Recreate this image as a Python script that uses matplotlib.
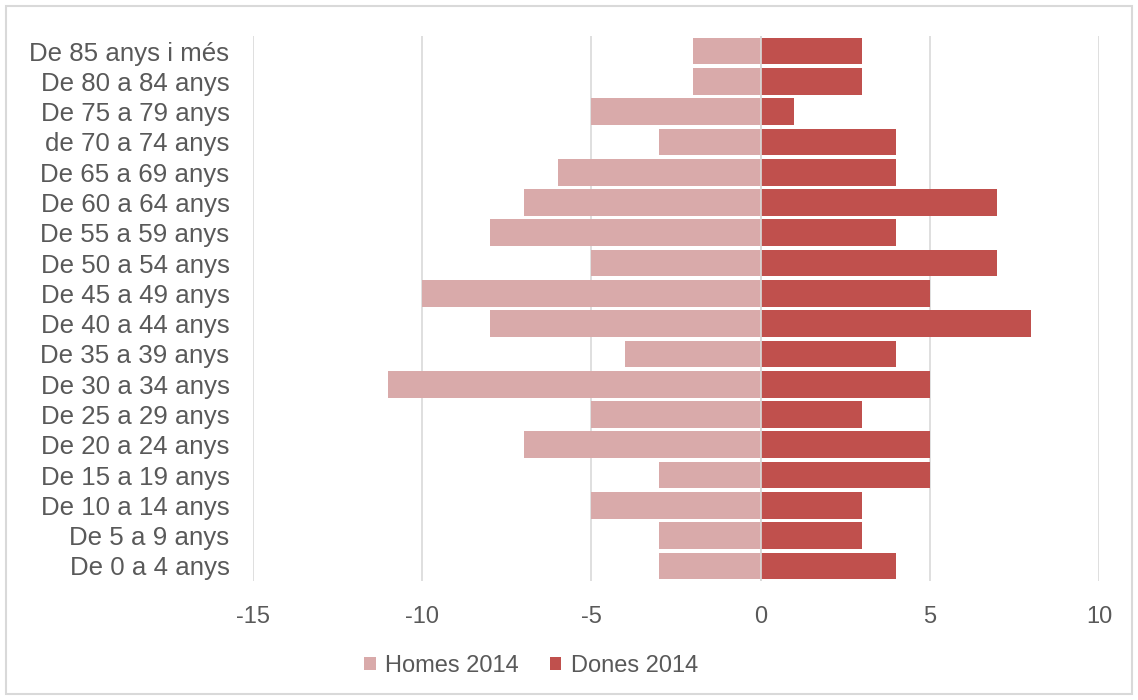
import matplotlib
matplotlib.use("Agg")
import matplotlib.pyplot as plt
from matplotlib.patches import Rectangle

plt.rcParams['font.family'] = ['Liberation Sans', 'DejaVu Sans']

categories = ["De 0 a 4 anys", "De 5 a 9 anys", "De 10 a 14 anys", "De 15 a 19 anys",
              "De 20 a 24 anys", "De 25 a 29 anys", "De 30 a 34 anys", "De 35 a 39 anys",
              "De 40 a 44 anys", "De 45 a 49 anys", "De 50 a 54 anys", "De 55 a 59 anys",
              "De 60 a 64 anys", "De 65 a 69 anys", "de 70 a 74 anys", "De 75 a 79 anys",
              "De 80 a 84 anys", "De 85 anys i més"]
homes = [-3, -3, -5, -3, -7, -5, -11, -4, -8, -10, -5, -8, -7, -6, -3, -5, -2, -2]
dones = [4, 3, 3, 5, 5, 3, 5, 4, 8, 5, 7, 4, 7, 4, 4, 1, 3, 3]
xticks = [-15, -10, -5, 0, 5, 10]

c_homes = "#D9AAAA"
c_dones = "#C0504D"
txt = "#595959"
grid = "#D9D9D9"

fig = plt.figure(figsize=(11.38, 7.0), dpi=100)
ax = fig.add_axes([253/1138, 1-581/700, (1099-253)/1138, (581-36)/700])

y = list(range(len(categories)))
ax.barh(y, homes, height=0.88, color=c_homes, label="Homes 2014", zorder=2)
ax.barh(y, dones, height=0.88, color=c_dones, label="Dones 2014", zorder=2)
ax.axvline(0, color=grid, lw=1.2, zorder=3)

ax.set_xlim(-15, 10)
ax.set_ylim(-0.5, len(categories)-0.5)
ax.set_xticks(xticks)
ax.set_xticklabels([str(v) for v in xticks])
ax.set_yticks(y)
ax.set_yticklabels(categories)
ax.grid(axis='x', color=grid, lw=1.2, zorder=0)
ax.set_axisbelow(True)
for s in ax.spines.values():
    s.set_visible(False)
ax.tick_params(axis='both', length=0, colors=txt)
ax.tick_params(axis='x', pad=18, labelsize=17)
ax.tick_params(axis='y', pad=17, labelsize=18.6)

fig.legend(loc='center', bbox_to_anchor=(531/1138, 1-666/700), ncol=2, frameon=False,
           fontsize=17, labelcolor=txt, handlelength=0.5, handleheight=0.5,
           handletextpad=0.4, columnspacing=1.3)

fig.patches.append(Rectangle((6/1138, 6/700), 1-12/1138, 1-12/700, transform=fig.transFigure,
                             fill=False, edgecolor=grid, lw=1.5))

fig.savefig("out.png", dpi=100)
